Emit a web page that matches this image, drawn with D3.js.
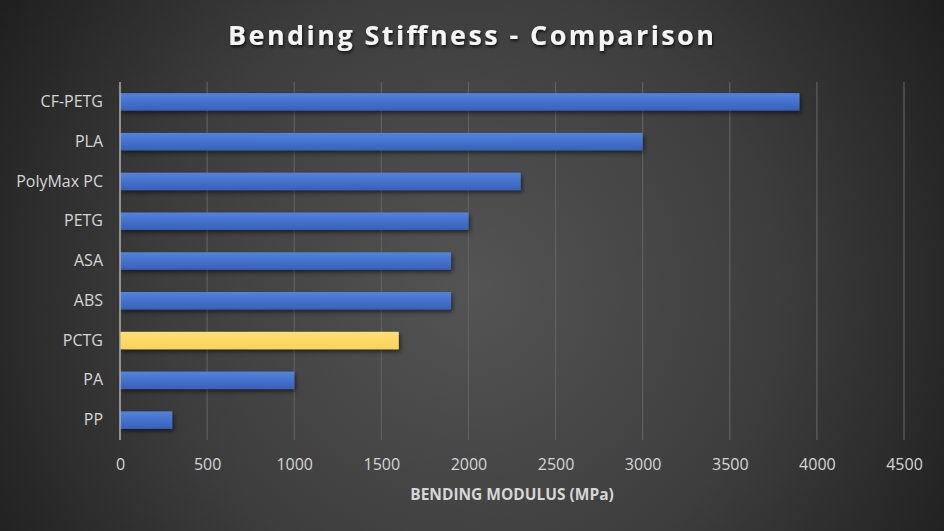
<!DOCTYPE html>
<html>
<head>
<meta charset="utf-8">
<script src="https://cdn.jsdelivr.net/npm/d3@7"></script>
<style>
  html, body { margin: 0; padding: 0; background: #2a2a2a; }
  svg { display: block; }
</style>
</head>
<body>
<div id="chart"></div>
<script>
// ---- data ----
const categories = ["CF-PETG", "PLA", "PolyMax PC", "PETG", "ASA", "ABS", "PCTG", "PA", "PP"];
const modulusValues = [3900, 3000, 2300, 2000, 1900, 1900, 1600, 1000, 300];
const highlighted = ["PCTG"];
const xTickValues = [0, 500, 1000, 1500, 2000, 2500, 3000, 3500, 4000, 4500];
const titleText = "Bending Stiffness - Comparison";
const xAxisTitle = "BENDING MODULUS (MPa)";

const W = 944, H = 531;
const margin = { top: 82, right: 40, bottom: 91, left: 120 };

const svg = d3.select("#chart").append("svg")
  .attr("width", W).attr("height", H);

const defs = svg.append("defs");
const bg = defs.append("radialGradient").attr("id", "bg")
  .attr("gradientUnits", "userSpaceOnUse")
  .attr("cx", 470).attr("cy", 290).attr("r", 560);
bg.append("stop").attr("offset", "0%").attr("stop-color", "#545454");
bg.append("stop").attr("offset", "55%").attr("stop-color", "#3d3d3d");
bg.append("stop").attr("offset", "100%").attr("stop-color", "#1e1e1e");

const gBlue = defs.append("linearGradient").attr("id", "gBlue").attr("x1", 0).attr("y1", 0).attr("x2", 0).attr("y2", 1);
gBlue.append("stop").attr("offset", "0%").attr("stop-color", "#5383dc");
gBlue.append("stop").attr("offset", "45%").attr("stop-color", "#4673cd");
gBlue.append("stop").attr("offset", "100%").attr("stop-color", "#3761bb");
const gYel = defs.append("linearGradient").attr("id", "gYel").attr("x1", 0).attr("y1", 0).attr("x2", 0).attr("y2", 1);
gYel.append("stop").attr("offset", "0%").attr("stop-color", "#ffdf72");
gYel.append("stop").attr("offset", "100%").attr("stop-color", "#f8d35e");

const shadow = defs.append("filter").attr("id", "shadow")
  .attr("x", "-5%").attr("y", "-30%").attr("width", "115%").attr("height", "180%");
shadow.append("feDropShadow").attr("dx", 1.5).attr("dy", 2.5).attr("stdDeviation", 2)
  .attr("flood-color", "#000").attr("flood-opacity", 0.55);

const tshadow = defs.append("filter").attr("id", "tshadow")
  .attr("x", "-5%").attr("y", "-30%").attr("width", "110%").attr("height", "170%");
tshadow.append("feDropShadow").attr("dx", 1).attr("dy", 2).attr("stdDeviation", 1.5)
  .attr("flood-color", "#000").attr("flood-opacity", 0.7);

svg.append("rect").attr("width", W).attr("height", H).attr("fill", "url(#bg)");

const x = d3.scaleLinear().domain([0, 4500]).range([margin.left, W - margin.right]);
const y = d3.scaleBand().domain(categories).range([margin.top, H - margin.bottom]).paddingInner(0.56).paddingOuter(0.28);

// gridlines
svg.append("g").selectAll("line").data(xTickValues.filter(d => d > 0)).join("line")
  .attr("x1", d => x(d)).attr("x2", d => x(d))
  .attr("y1", margin.top).attr("y2", H - margin.bottom)
  .attr("stroke", "#606060").attr("stroke-width", 1.2);

// bars
svg.append("g").selectAll("rect").data(categories).join("rect")
  .attr("x", x(0))
  .attr("y", d => y(d))
  .attr("height", y.bandwidth())
  .attr("width", (d, i) => x(modulusValues[i]) - x(0))
  .attr("fill", d => highlighted.includes(d) ? "url(#gYel)" : "url(#gBlue)")
  .attr("filter", "url(#shadow)");

// y axis line
svg.append("line")
  .attr("x1", x(0)).attr("x2", x(0))
  .attr("y1", margin.top).attr("y2", H - margin.bottom)
  .attr("stroke", "#b0b0b0").attr("stroke-width", 1.5);

// x axis
const xAxis = svg.append("g")
  .attr("transform", `translate(0,${H - margin.bottom})`)
  .call(d3.axisBottom(x).tickValues(xTickValues).tickSize(0).tickPadding(19).tickFormat(d3.format("d")));
xAxis.select(".domain").remove();
xAxis.selectAll("text")
  .attr("fill", "#d6d6d6").attr("font-family", "'Open Sans', sans-serif").attr("font-size", 16);

// y axis labels
const yAxis = svg.append("g")
  .attr("transform", `translate(${x(0)},0)`)
  .call(d3.axisLeft(y).tickSize(0).tickPadding(17));
yAxis.select(".domain").remove();
yAxis.selectAll("text")
  .attr("fill", "#d6d6d6").attr("font-family", "'Open Sans', sans-serif").attr("font-size", 16);

// axis title
svg.append("text")
  .attr("x", (x(0) + x(4500)) / 2).attr("y", 500)
  .attr("text-anchor", "middle")
  .attr("fill", "#d6d6d6").attr("font-family", "'Open Sans', sans-serif")
  .attr("font-weight", "bold").attr("font-size", 15.5)
  .text(xAxisTitle);

// title
svg.append("text")
  .attr("x", 228).attr("y", 45)
  .attr("fill", "#f4f4f4").attr("font-family", "'Open Sans', sans-serif")
  .attr("font-weight", "bold").attr("font-size", 27)
  .attr("textLength", 486).attr("lengthAdjust", "spacing")
  .attr("filter", "url(#tshadow)")
  .text(titleText);
</script>
</body>
</html>
